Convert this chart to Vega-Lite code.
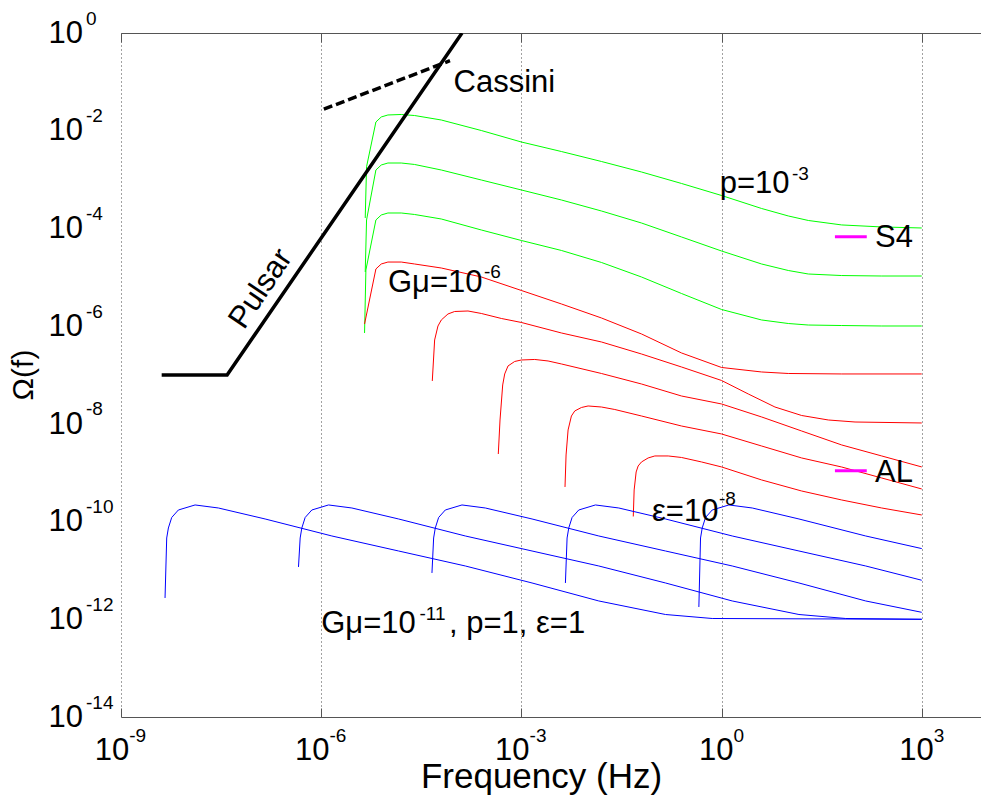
{
  "$schema": "https://vega.github.io/schema/vega-lite/v6.json",
  "width": 860,
  "height": 684,
  "autosize": {"type": "none"},
  "padding": {"left": 121, "top": 33, "right": 0, "bottom": 84},
  "background": "white",
  "config": {
    "view": {"stroke": null},
    "axis": {"titleFont": "Liberation Sans", "titleColor": "#000000", "titleFontWeight": "normal"}
  },
  "datasets": {
    "curves": [
      {"curve":"p1","family":"p","f":4.571e-6,"omega":1.637e-4},
      {"curve":"p1","family":"p","f":4.786e-6,"omega":1.832e-3},
      {"curve":"p1","family":"p","f":6.607e-6,"omega":1.507e-2},
      {"curve":"p1","family":"p","f":7.943e-6,"omega":1.910e-2},
      {"curve":"p1","family":"p","f":1e-5,"omega":2.099e-2},
      {"curve":"p1","family":"p","f":1.585e-5,"omega":2.148e-2},
      {"curve":"p1","family":"p","f":2.512e-5,"omega":2.046e-2},
      {"curve":"p1","family":"p","f":6.310e-5,"omega":1.656e-2},
      {"curve":"p1","family":"p","f":2.512e-4,"omega":1.009e-2},
      {"curve":"p1","family":"p","f":1e-3,"omega":5.875e-3},
      {"curve":"p1","family":"p","f":3.981e-3,"omega":3.750e-3},
      {"curve":"p1","family":"p","f":1.585e-2,"omega":2.344e-3},
      {"curve":"p1","family":"p","f":6.310e-2,"omega":1.429e-3},
      {"curve":"p1","family":"p","f":0.2512,"omega":8.318e-4},
      {"curve":"p1","family":"p","f":1,"omega":4.721e-4},
      {"curve":"p1","family":"p","f":3.981,"omega":2.559e-4},
      {"curve":"p1","family":"p","f":10,"omega":1.799e-4},
      {"curve":"p1","family":"p","f":19.95,"omega":1.455e-4},
      {"curve":"p1","family":"p","f":63.10,"omega":1.178e-4},
      {"curve":"p1","family":"p","f":251.2,"omega":1.072e-4},
      {"curve":"p1","family":"p","f":1000,"omega":1.021e-4},

      {"curve":"p2","family":"p","f":4.571e-6,"omega":1.282e-5},
      {"curve":"p2","family":"p","f":4.786e-6,"omega":1.489e-4},
      {"curve":"p2","family":"p","f":6.607e-6,"omega":1.570e-3},
      {"curve":"p2","family":"p","f":7.943e-6,"omega":1.986e-3},
      {"curve":"p2","family":"p","f":1e-5,"omega":2.183e-3},
      {"curve":"p2","family":"p","f":1.585e-5,"omega":2.183e-3},
      {"curve":"p2","family":"p","f":2.512e-5,"omega":2.037e-3},
      {"curve":"p2","family":"p","f":6.310e-5,"omega":1.570e-3},
      {"curve":"p2","family":"p","f":2.512e-4,"omega":9.795e-4},
      {"curve":"p2","family":"p","f":1e-3,"omega":6.124e-4},
      {"curve":"p2","family":"p","f":3.981e-3,"omega":3.819e-4},
      {"curve":"p2","family":"p","f":1.585e-2,"omega":2.275e-4},
      {"curve":"p2","family":"p","f":6.310e-2,"omega":1.291e-4},
      {"curve":"p2","family":"p","f":0.2512,"omega":6.683e-5},
      {"curve":"p2","family":"p","f":1,"omega":3.451e-5},
      {"curve":"p2","family":"p","f":3.981,"omega":1.871e-5},
      {"curve":"p2","family":"p","f":10,"omega":1.377e-5},
      {"curve":"p2","family":"p","f":19.95,"omega":1.167e-5},
      {"curve":"p2","family":"p","f":63.10,"omega":1.086e-5},
      {"curve":"p2","family":"p","f":251.2,"omega":1.062e-5},
      {"curve":"p2","family":"p","f":1000,"omega":1.062e-5},

      {"curve":"p3","family":"p","f":4.467e-6,"omega":7.244e-7},
      {"curve":"p3","family":"p","f":4.677e-6,"omega":1.409e-5},
      {"curve":"p3","family":"p","f":6.607e-6,"omega":1.489e-4},
      {"curve":"p3","family":"p","f":7.943e-6,"omega":1.884e-4},
      {"curve":"p3","family":"p","f":1e-5,"omega":2.070e-4},
      {"curve":"p3","family":"p","f":1.585e-5,"omega":2.070e-4},
      {"curve":"p3","family":"p","f":2.512e-5,"omega":1.928e-4},
      {"curve":"p3","family":"p","f":6.310e-5,"omega":1.560e-4},
      {"curve":"p3","family":"p","f":2.512e-4,"omega":9.290e-5},
      {"curve":"p3","family":"p","f":1e-3,"omega":5.662e-5},
      {"curve":"p3","family":"p","f":3.981e-3,"omega":3.540e-5},
      {"curve":"p3","family":"p","f":1.585e-2,"omega":2.009e-5},
      {"curve":"p3","family":"p","f":6.310e-2,"omega":1.014e-5},
      {"curve":"p3","family":"p","f":0.2512,"omega":4.656e-6},
      {"curve":"p3","family":"p","f":1,"omega":2.193e-6},
      {"curve":"p3","family":"p","f":3.981,"omega":1.337e-6},
      {"curve":"p3","family":"p","f":10,"omega":1.132e-6},
      {"curve":"p3","family":"p","f":19.95,"omega":1.054e-6},
      {"curve":"p3","family":"p","f":63.10,"omega":1.030e-6},
      {"curve":"p3","family":"p","f":251.2,"omega":1.007e-6},
      {"curve":"p3","family":"p","f":1000,"omega":1.007e-6},

      {"curve":"g1","family":"Gmu","f":4.467e-6,"omega":1.107e-6},
      {"curve":"g1","family":"Gmu","f":6.607e-6,"omega":1.479e-5},
      {"curve":"g1","family":"Gmu","f":7.943e-6,"omega":1.871e-5},
      {"curve":"g1","family":"Gmu","f":1e-5,"omega":2.051e-5},
      {"curve":"g1","family":"Gmu","f":1.585e-5,"omega":2.051e-5},
      {"curve":"g1","family":"Gmu","f":2.512e-5,"omega":1.871e-5},
      {"curve":"g1","family":"Gmu","f":6.310e-5,"omega":1.549e-5},
      {"curve":"g1","family":"Gmu","f":2.512e-4,"omega":1.014e-5},
      {"curve":"g1","family":"Gmu","f":1e-3,"omega":5.370e-6},
      {"curve":"g1","family":"Gmu","f":3.981e-3,"omega":2.844e-6},
      {"curve":"g1","family":"Gmu","f":1.585e-2,"omega":1.469e-6},
      {"curve":"g1","family":"Gmu","f":6.310e-2,"omega":6.918e-7},
      {"curve":"g1","family":"Gmu","f":0.2512,"omega":2.825e-7},
      {"curve":"g1","family":"Gmu","f":1,"omega":1.426e-7},
      {"curve":"g1","family":"Gmu","f":3.981,"omega":1.153e-7},
      {"curve":"g1","family":"Gmu","f":10,"omega":1.074e-7},
      {"curve":"g1","family":"Gmu","f":63.10,"omega":1.050e-7},
      {"curve":"g1","family":"Gmu","f":1000,"omega":1.050e-7},

      {"curve":"g2","family":"Gmu","f":4.624e-5,"omega":7.551e-8},
      {"curve":"g2","family":"Gmu","f":5.012e-5,"omega":5.212e-7},
      {"curve":"g2","family":"Gmu","f":5.623e-5,"omega":1.007e-6},
      {"curve":"g2","family":"Gmu","f":6.310e-5,"omega":1.337e-6},
      {"curve":"g2","family":"Gmu","f":7.943e-5,"omega":1.774e-6},
      {"curve":"g2","family":"Gmu","f":1e-4,"omega":1.995e-6},
      {"curve":"g2","family":"Gmu","f":1.585e-4,"omega":2.042e-6},
      {"curve":"g2","family":"Gmu","f":2.512e-4,"omega":1.816e-6},
      {"curve":"g2","family":"Gmu","f":5.012e-4,"omega":1.435e-6},
      {"curve":"g2","family":"Gmu","f":1e-3,"omega":1.189e-6},
      {"curve":"g2","family":"Gmu","f":3.981e-3,"omega":7.244e-7},
      {"curve":"g2","family":"Gmu","f":1.585e-2,"omega":4.742e-7},
      {"curve":"g2","family":"Gmu","f":6.310e-2,"omega":2.692e-7},
      {"curve":"g2","family":"Gmu","f":0.2512,"omega":1.459e-7},
      {"curve":"g2","family":"Gmu","f":1,"omega":7.727e-8},
      {"curve":"g2","family":"Gmu","f":2.512,"omega":4.093e-8},
      {"curve":"g2","family":"Gmu","f":6.310,"omega":2.213e-8},
      {"curve":"g2","family":"Gmu","f":15.85,"omega":1.483e-8},
      {"curve":"g2","family":"Gmu","f":39.81,"omega":1.200e-8},
      {"curve":"g2","family":"Gmu","f":100,"omega":1.091e-8},
      {"curve":"g2","family":"Gmu","f":1000,"omega":1.042e-8},

      {"curve":"g3","family":"Gmu","f":4.508e-4,"omega":2.415e-9},
      {"curve":"g3","family":"Gmu","f":4.786e-4,"omega":1.200e-8},
      {"curve":"g3","family":"Gmu","f":5.248e-4,"omega":6.252e-8},
      {"curve":"g3","family":"Gmu","f":5.623e-4,"omega":1.050e-7},
      {"curve":"g3","family":"Gmu","f":6.310e-4,"omega":1.531e-7},
      {"curve":"g3","family":"Gmu","f":7.943e-4,"omega":1.892e-7},
      {"curve":"g3","family":"Gmu","f":1e-3,"omega":2.028e-7},
      {"curve":"g3","family":"Gmu","f":1.585e-3,"omega":2.080e-7},
      {"curve":"g3","family":"Gmu","f":2.512e-3,"omega":1.936e-7},
      {"curve":"g3","family":"Gmu","f":3.981e-3,"omega":1.683e-7},
      {"curve":"g3","family":"Gmu","f":1.585e-2,"omega":1.074e-7},
      {"curve":"g3","family":"Gmu","f":6.310e-2,"omega":6.546e-8},
      {"curve":"g3","family":"Gmu","f":0.2512,"omega":3.715e-8},
      {"curve":"g3","family":"Gmu","f":1,"omega":2.553e-8},
      {"curve":"g3","family":"Gmu","f":3.981,"omega":1.384e-8},
      {"curve":"g3","family":"Gmu","f":15.85,"omega":7.145e-9},
      {"curve":"g3","family":"Gmu","f":63.10,"omega":3.698e-9},
      {"curve":"g3","family":"Gmu","f":251.2,"omega":2.203e-9},
      {"curve":"g3","family":"Gmu","f":1000,"omega":1.312e-9},

      {"curve":"g4","family":"Gmu","f":4.508e-3,"omega":5.105e-10},
      {"curve":"g4","family":"Gmu","f":4.677e-3,"omega":2.307e-9},
      {"curve":"g4","family":"Gmu","f":5.012e-3,"omega":7.499e-9},
      {"curve":"g4","family":"Gmu","f":5.623e-3,"omega":1.449e-8},
      {"curve":"g4","family":"Gmu","f":6.310e-3,"omega":1.837e-8},
      {"curve":"g4","family":"Gmu","f":7.943e-3,"omega":2.163e-8},
      {"curve":"g4","family":"Gmu","f":1e-2,"omega":2.323e-8},
      {"curve":"g4","family":"Gmu","f":1.585e-2,"omega":2.213e-8},
      {"curve":"g4","family":"Gmu","f":2.512e-2,"omega":1.968e-8},
      {"curve":"g4","family":"Gmu","f":6.310e-2,"omega":1.449e-8},
      {"curve":"g4","family":"Gmu","f":0.2512,"omega":9.036e-9},
      {"curve":"g4","family":"Gmu","f":1,"omega":6.209e-9},
      {"curve":"g4","family":"Gmu","f":3.981,"omega":3.524e-9},
      {"curve":"g4","family":"Gmu","f":15.85,"omega":2.004e-9},
      {"curve":"g4","family":"Gmu","f":63.10,"omega":1.309e-9},
      {"curve":"g4","family":"Gmu","f":251.2,"omega":7.798e-10},
      {"curve":"g4","family":"Gmu","f":1000,"omega":4.645e-10},

      {"curve":"g5","family":"Gmu","f":4.753e-2,"omega":1.271e-10},
      {"curve":"g5","family":"Gmu","f":4.898e-2,"omega":4.436e-10},
      {"curve":"g5","family":"Gmu","f":5.248e-2,"omega":1.035e-9},
      {"curve":"g5","family":"Gmu","f":5.623e-2,"omega":1.374e-9},
      {"curve":"g5","family":"Gmu","f":6.310e-2,"omega":1.660e-9},
      {"curve":"g5","family":"Gmu","f":7.943e-2,"omega":2.004e-9},
      {"curve":"g5","family":"Gmu","f":0.1,"omega":2.203e-9},
      {"curve":"g5","family":"Gmu","f":0.1585,"omega":2.203e-9},
      {"curve":"g5","family":"Gmu","f":0.2512,"omega":2.051e-9},
      {"curve":"g5","family":"Gmu","f":0.5012,"omega":1.660e-9},
      {"curve":"g5","family":"Gmu","f":1,"omega":1.312e-9},
      {"curve":"g5","family":"Gmu","f":3.981,"omega":7.112e-10},
      {"curve":"g5","family":"Gmu","f":15.85,"omega":4.227e-10},
      {"curve":"g5","family":"Gmu","f":63.10,"omega":2.767e-10},
      {"curve":"g5","family":"Gmu","f":251.2,"omega":1.897e-10},
      {"curve":"g5","family":"Gmu","f":1000,"omega":1.365e-10},

      {"curve":"e1","family":"eps","f":4.571e-9,"omega":2.729e-12},
      {"curve":"e1","family":"eps","f":4.842e-9,"omega":4.613e-11},
      {"curve":"e1","family":"eps","f":5.129e-9,"omega":7.396e-11},
      {"curve":"e1","family":"eps","f":5.754e-9,"omega":1.213e-10},
      {"curve":"e1","family":"eps","f":7.244e-9,"omega":1.726e-10},
      {"curve":"e1","family":"eps","f":1.288e-8,"omega":2.188e-10},
      {"curve":"e1","family":"eps","f":2.884e-8,"omega":1.897e-10},
      {"curve":"e1","family":"eps","f":1.445e-7,"omega":1.130e-10},
      {"curve":"e1","family":"eps","f":1.445e-6,"omega":5.070e-11},
      {"curve":"e1","family":"eps","f":1.445e-5,"omega":2.500e-11},
      {"curve":"e1","family":"eps","f":1.445e-4,"omega":1.233e-11},
      {"curve":"e1","family":"eps","f":1.445e-3,"omega":5.534e-12},
      {"curve":"e1","family":"eps","f":1.445e-2,"omega":2.371e-12},
      {"curve":"e1","family":"eps","f":0.1445,"omega":1.253e-12},
      {"curve":"e1","family":"eps","f":0.7244,"omega":1.038e-12},
      {"curve":"e1","family":"eps","f":1000,"omega":1.0e-12},

      {"curve":"e2","family":"eps","f":4.571e-7,"omega":1.178e-11},
      {"curve":"e2","family":"eps","f":4.842e-7,"omega":4.613e-11},
      {"curve":"e2","family":"eps","f":5.129e-7,"omega":7.396e-11},
      {"curve":"e2","family":"eps","f":5.754e-7,"omega":1.213e-10},
      {"curve":"e2","family":"eps","f":7.244e-7,"omega":1.726e-10},
      {"curve":"e2","family":"eps","f":1.288e-6,"omega":2.188e-10},
      {"curve":"e2","family":"eps","f":2.884e-6,"omega":1.897e-10},
      {"curve":"e2","family":"eps","f":1.445e-5,"omega":1.130e-10},
      {"curve":"e2","family":"eps","f":1.445e-4,"omega":5.070e-11},
      {"curve":"e2","family":"eps","f":1.445e-3,"omega":2.500e-11},
      {"curve":"e2","family":"eps","f":1.445e-2,"omega":1.233e-11},
      {"curve":"e2","family":"eps","f":0.1445,"omega":5.534e-12},
      {"curve":"e2","family":"eps","f":1.445,"omega":2.371e-12},
      {"curve":"e2","family":"eps","f":14.45,"omega":1.253e-12},
      {"curve":"e2","family":"eps","f":72.44,"omega":1.038e-12},
      {"curve":"e2","family":"eps","f":1000,"omega":1.0e-12},

      {"curve":"e3","family":"eps","f":4.571e-5,"omega":8.872e-12},
      {"curve":"e3","family":"eps","f":4.842e-5,"omega":4.613e-11},
      {"curve":"e3","family":"eps","f":5.129e-5,"omega":7.396e-11},
      {"curve":"e3","family":"eps","f":5.754e-5,"omega":1.213e-10},
      {"curve":"e3","family":"eps","f":7.244e-5,"omega":1.726e-10},
      {"curve":"e3","family":"eps","f":1.288e-4,"omega":2.188e-10},
      {"curve":"e3","family":"eps","f":2.884e-4,"omega":1.897e-10},
      {"curve":"e3","family":"eps","f":1.445e-3,"omega":1.130e-10},
      {"curve":"e3","family":"eps","f":1.445e-2,"omega":5.070e-11},
      {"curve":"e3","family":"eps","f":0.1445,"omega":2.500e-11},
      {"curve":"e3","family":"eps","f":1.445,"omega":1.233e-11},
      {"curve":"e3","family":"eps","f":14.45,"omega":5.534e-12},
      {"curve":"e3","family":"eps","f":144.5,"omega":2.371e-12},
      {"curve":"e3","family":"eps","f":1000,"omega":1.390e-12},

      {"curve":"e4","family":"eps","f":4.571e-3,"omega":5.534e-12},
      {"curve":"e4","family":"eps","f":4.842e-3,"omega":4.613e-11},
      {"curve":"e4","family":"eps","f":5.129e-3,"omega":7.396e-11},
      {"curve":"e4","family":"eps","f":5.754e-3,"omega":1.213e-10},
      {"curve":"e4","family":"eps","f":7.244e-3,"omega":1.726e-10},
      {"curve":"e4","family":"eps","f":1.288e-2,"omega":2.188e-10},
      {"curve":"e4","family":"eps","f":2.884e-2,"omega":1.897e-10},
      {"curve":"e4","family":"eps","f":0.1445,"omega":1.130e-10},
      {"curve":"e4","family":"eps","f":1.445,"omega":5.070e-11},
      {"curve":"e4","family":"eps","f":14.45,"omega":2.500e-11},
      {"curve":"e4","family":"eps","f":144.5,"omega":1.233e-11},
      {"curve":"e4","family":"eps","f":1000,"omega":6.295e-12},

      {"curve":"e5","family":"eps","f":0.4571,"omega":1.786e-12},
      {"curve":"e5","family":"eps","f":0.4842,"omega":4.613e-11},
      {"curve":"e5","family":"eps","f":0.5129,"omega":7.396e-11},
      {"curve":"e5","family":"eps","f":0.5754,"omega":1.213e-10},
      {"curve":"e5","family":"eps","f":0.7244,"omega":1.726e-10},
      {"curve":"e5","family":"eps","f":1.288,"omega":2.188e-10},
      {"curve":"e5","family":"eps","f":2.884,"omega":1.897e-10},
      {"curve":"e5","family":"eps","f":14.45,"omega":1.130e-10},
      {"curve":"e5","family":"eps","f":144.5,"omega":5.070e-11},
      {"curve":"e5","family":"eps","f":1000,"omega":2.799e-11}
    ],
    "pulsar": [
      {"f": 4.07e-9, "omega": 1e-7},
      {"f": 3.89e-8, "omega": 1e-7},
      {"f": 1.288e-4, "omega": 1}
    ],
    "cassini": [
      {"f": 1.096e-6, "omega": 2.754e-2},
      {"f": 8.511e-5, "omega": 0.271}
    ],
    "markers": [
      {"name": "S4", "f": 50, "omega": 6.78e-5},
      {"name": "S4", "f": 150, "omega": 6.78e-5},
      {"name": "AL", "f": 50, "omega": 1.10e-9},
      {"name": "AL", "f": 150, "omega": 1.10e-9}
    ],
    "labels": [
      {"text": "Cassini", "f": 9.62e-5, "omega": 6.30e-2},
      {"text": "p=10", "f": 0.938, "omega": 5.24e-4},
      {"text": "S4", "f": 199, "omega": 4.227e-5},
      {"text": "AL", "f": 199, "omega": 6.56e-10},
      {"text": "Gμ=10", "f": 1e-5, "omega": 5.07e-6},
      {"text": "ε=10", "f": 0.0906, "omega": 1.042e-10},
      {"text": "Gμ=10", "f": 1e-6, "omega": 5.18e-13},
      {"text": ", p=1, ε=1", "f": 8.22e-5, "omega": 5.18e-13}
    ],
    "sups": [
      {"text": "-3", "f": 11.35, "omega": 9.80e-4},
      {"text": "-6", "f": 2.754e-4, "omega": 9.82e-6},
      {"text": "-8", "f": 0.916, "omega": 2.188e-10},
      {"text": "-11", "f": 2.972e-5, "omega": 9.68e-13}
    ],
    "rotated": [
      {"text": "Pulsar", "f": 1.253e-7, "omega": 5.77e-6}
    ],
    "ytitle": [
      {"text": "Ω(f)", "f": 1e-9, "omega": 1e-7}
    ],
    "yticks": [
      {"v": 1, "e": "0"}, {"v": 1e-2, "e": "-2"}, {"v": 1e-4, "e": "-4"},
      {"v": 1e-6, "e": "-6"}, {"v": 1e-8, "e": "-8"}, {"v": 1e-10, "e": "-10"},
      {"v": 1e-12, "e": "-12"}, {"v": 1e-14, "e": "-14"}
    ],
    "xticksA": [
      {"v": 1e-9, "e": "-9"}, {"v": 1e-6, "e": "-6"}, {"v": 1e-3, "e": "-3"}
    ],
    "xticksB": [
      {"v": 1, "e": "0"}, {"v": 1000, "e": "3"}
    ]
  },
  "layer": [
    {
      "data": {"name": "curves"},
      "mark": {"type": "line", "strokeWidth": 1, "clip": true},
      "encoding": {
        "x": {
          "field": "f", "type": "quantitative",
          "scale": {"type": "log", "domain": [1e-9, 7727], "nice": false},
          "axis": {
            "orient": "bottom",
            "values": [1e-9, 1e-6, 1e-3, 1, 1000],
            "labels": false,
            "title": "Frequency (Hz)",
            "titleFontSize": 35,
            "titleX": 420,
            "titleY": 70,
            "titleAlign": "center",
            "titleBaseline": "alphabetic",
            "grid": true, "gridDash": [1, 3], "gridColor": "#444444", "gridWidth": 1,
            "ticks": true, "tickSize": -9, "tickColor": "#555555",
            "domain": true, "domainColor": "#555555"
          }
        },
        "y": {
          "field": "omega", "type": "quantitative",
          "scale": {"type": "log", "domain": [1e-14, 1], "nice": false},
          "axis": {
            "orient": "left",
            "values": [1e-14, 1e-12, 1e-10, 1e-8, 1e-6, 1e-4, 1e-2, 1],
            "labels": false,
            "title": null,
            "grid": true, "gridDash": [1, 3], "gridColor": "#444444", "gridWidth": 1,
            "ticks": true, "tickSize": -9, "tickColor": "#555555",
            "domain": true, "domainColor": "#555555"
          }
        },
        "color": {
          "field": "family", "type": "nominal",
          "scale": {"domain": ["p", "Gmu", "eps"], "range": ["#00ff00", "#ff0000", "#0000ff"]},
          "legend": null
        },
        "detail": {"field": "curve"}
      }
    },
    {
      "data": {"name": "pulsar"},
      "mark": {"type": "line", "color": "#000000", "strokeWidth": 3.5, "clip": true},
      "encoding": {
        "x": {"field": "f", "type": "quantitative", "axis": null},
        "y": {"field": "omega", "type": "quantitative", "axis": null}
      }
    },
    {
      "data": {"name": "cassini"},
      "mark": {"type": "line", "color": "#000000", "strokeWidth": 3.5, "strokeDash": [9, 4]},
      "encoding": {
        "x": {"field": "f", "type": "quantitative", "axis": null},
        "y": {"field": "omega", "type": "quantitative", "axis": null}
      }
    },
    {
      "data": {"name": "markers"},
      "mark": {"type": "line", "color": "#ff00ff", "strokeWidth": 3},
      "encoding": {
        "x": {
          "field": "f", "type": "quantitative",
          "axis": {
            "orient": "top",
            "values": [1e-9, 1e-6, 1e-3, 1, 1000],
            "labels": false, "title": null, "grid": false,
            "ticks": true, "tickSize": -9, "tickColor": "#555555",
            "domain": true, "domainColor": "#555555"
          }
        },
        "y": {"field": "omega", "type": "quantitative", "axis": null},
        "detail": {"field": "name"}
      }
    },
    {
      "data": {"name": "labels"},
      "mark": {"type": "text", "align": "left", "baseline": "alphabetic", "font": "Liberation Sans", "fontSize": 31, "color": "#000000"},
      "encoding": {
        "x": {"field": "f", "type": "quantitative", "axis": null},
        "y": {"field": "omega", "type": "quantitative", "axis": null},
        "text": {"field": "text"}
      }
    },
    {
      "data": {"name": "sups"},
      "mark": {"type": "text", "align": "left", "baseline": "alphabetic", "font": "Liberation Sans", "fontSize": 19, "color": "#000000"},
      "encoding": {
        "x": {"field": "f", "type": "quantitative", "axis": null},
        "y": {"field": "omega", "type": "quantitative", "axis": null},
        "text": {"field": "text"}
      }
    },
    {
      "data": {"name": "rotated"},
      "mark": {"type": "text", "align": "center", "baseline": "middle", "angle": -56, "font": "Liberation Sans", "fontSize": 31, "color": "#000000"},
      "encoding": {
        "x": {"field": "f", "type": "quantitative", "axis": null},
        "y": {"field": "omega", "type": "quantitative", "axis": null},
        "text": {"field": "text"}
      }
    },
    {
      "data": {"name": "ytitle"},
      "mark": {"type": "text", "align": "center", "baseline": "middle", "angle": -90, "dy": -97, "font": "Liberation Sans", "fontSize": 30, "color": "#000000"},
      "encoding": {
        "x": {"field": "f", "type": "quantitative", "axis": null},
        "y": {"field": "omega", "type": "quantitative", "axis": null},
        "text": {"field": "text"}
      }
    },
    {
      "data": {"name": "yticks"},
      "mark": {"type": "text", "text": "10", "align": "left", "baseline": "alphabetic", "dx": -72.4, "dy": 9.7, "font": "Liberation Sans", "fontSize": 31, "color": "#000000"},
      "encoding": {
        "x": {"datum": 1e-9, "type": "quantitative", "axis": null},
        "y": {"field": "v", "type": "quantitative", "axis": null}
      }
    },
    {
      "data": {"name": "yticks"},
      "mark": {"type": "text", "align": "left", "baseline": "alphabetic", "dx": -35, "dy": -8.5, "font": "Liberation Sans", "fontSize": 19, "color": "#000000"},
      "encoding": {
        "x": {"datum": 1e-9, "type": "quantitative", "axis": null},
        "y": {"field": "v", "type": "quantitative", "axis": null},
        "text": {"field": "e"}
      }
    },
    {
      "data": {"name": "xticksA"},
      "mark": {"type": "text", "text": "10", "align": "right", "baseline": "alphabetic", "dx": 8.2, "dy": 43, "font": "Liberation Sans", "fontSize": 31, "color": "#000000"},
      "encoding": {
        "x": {"field": "v", "type": "quantitative", "axis": null},
        "y": {"datum": 1e-14, "type": "quantitative", "axis": null}
      }
    },
    {
      "data": {"name": "xticksA"},
      "mark": {"type": "text", "align": "left", "baseline": "alphabetic", "dx": 8.2, "dy": 25, "font": "Liberation Sans", "fontSize": 19, "color": "#000000"},
      "encoding": {
        "x": {"field": "v", "type": "quantitative", "axis": null},
        "y": {"datum": 1e-14, "type": "quantitative", "axis": null},
        "text": {"field": "e"}
      }
    },
    {
      "data": {"name": "xticksB"},
      "mark": {"type": "text", "text": "10", "align": "right", "baseline": "alphabetic", "dx": 12, "dy": 43, "font": "Liberation Sans", "fontSize": 31, "color": "#000000"},
      "encoding": {
        "x": {"field": "v", "type": "quantitative", "axis": null},
        "y": {"datum": 1e-14, "type": "quantitative", "axis": null}
      }
    },
    {
      "data": {"name": "xticksB"},
      "mark": {"type": "text", "align": "left", "baseline": "alphabetic", "dx": 12, "dy": 25, "font": "Liberation Sans", "fontSize": 19, "color": "#000000"},
      "encoding": {
        "x": {"field": "v", "type": "quantitative", "axis": null},
        "y": {"datum": 1e-14, "type": "quantitative", "axis": null},
        "text": {"field": "e"}
      }
    }
  ],
  "resolve": {"axis": {"x": "independent"}}
}
